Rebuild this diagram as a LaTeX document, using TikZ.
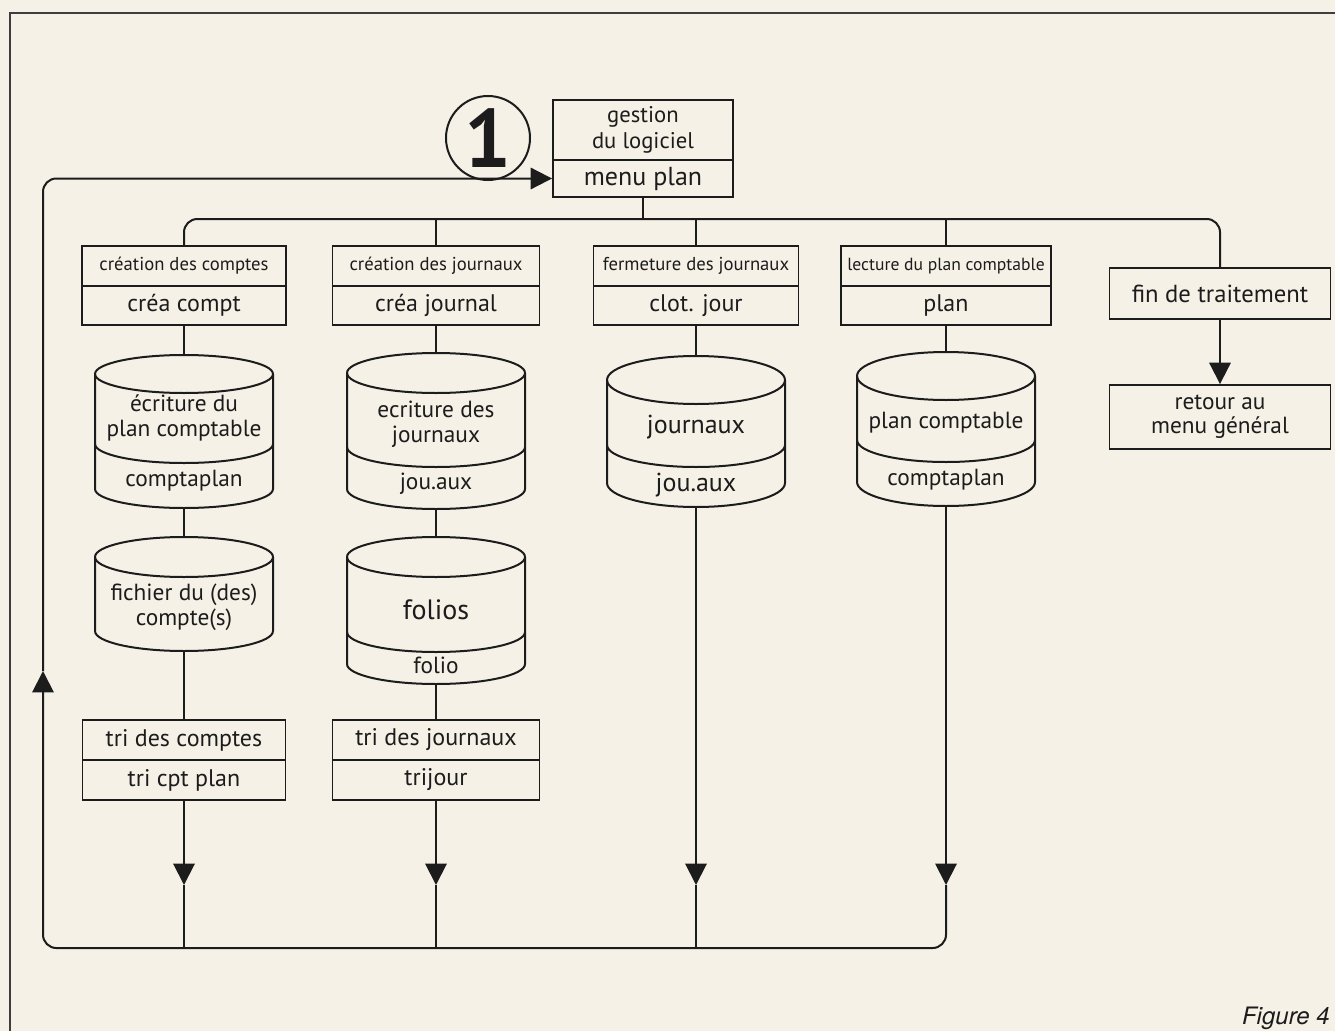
\documentclass[tikz,border=0pt]{standalone}
\usepackage{fontspec}
\setmainfont{PT Sans}
\newfontfamily\heros{TeX Gyre Heros}
\usetikzlibrary{arrows.meta}
\definecolor{paper}{RGB}{245,241,230}
\definecolor{ink}{RGB}{28,28,28}
\newcommand\drum[5]{%
  \draw[ln] (#2,#3) ellipse[x radius=89,y radius=#5];
  \draw[ln] (#2-89,#3) -- (#2-89,#4) arc[start angle=180,end angle=0,x radius=89,y radius=#5] -- (#2+89,#3);
  \coordinate (#1t) at (#2,#3-#5);
  \coordinate (#1b) at (#2,#4+#5);
}
\newcommand\drumdiv[3]{%
  \draw[ln] (#1-89,#2) arc[start angle=180,end angle=0,x radius=89,y radius=#3];
}
\begin{document}
\begin{tikzpicture}[x=0.75pt,y=-0.75pt,
  ln/.style={draw=ink,line width=1.5pt,line join=round},
  bx/.style={draw=ink,line width=1.4pt,inner sep=0pt,align=center,text=ink,font=\fontsize{18}{20}\selectfont},
  hd/.style={bx,font=\fontsize{14}{16}\selectfont},
  wh/.style 2 args={minimum width=#1*0.75pt,minimum height=#2*0.75pt},
  txt/.style={align=center,inner sep=0pt,text=ink,font=\fontsize{17.5}{19}\selectfont},
  tip/.style={-{Triangle[length=16pt,width=16pt]}}]
\fill[paper] (0,0) rectangle (1335,1031);
\useasboundingbox (0,0) rectangle (1335,1031);
\draw[draw=ink!85,line width=1.2pt] (1335,13) -- (10,13) -- (10,1031);

% number circle
\node[draw=ink,line width=1.5pt,circle,minimum size=84*0.75pt,inner sep=0pt,text=ink,
  font=\fontsize{62}{62}\selectfont\bfseries] (num) at (488,138) {1};

% top box
\node[bx,wh={180}{60},font=\fontsize{17}{19}\selectfont] (g1) at (643,130) {gestion\\du logiciel};
\node[bx,wh={180}{37},font=\fontsize{19.5}{21}\selectfont] (g2) at (643,178.5) {menu plan};

% column headers
\node[hd,wh={204}{40}] (c1a) at (184,266) {création des comptes};
\node[bx,wh={204}{39}] (c1b) at (184,305.5) {créa compt};
\node[hd,wh={207}{40}] (c2a) at (436,266) {création des journaux};
\node[bx,wh={207}{39}] (c2b) at (436,305.5) {créa journal};
\node[hd,wh={205}{40}] (c3a) at (696,266) {fermeture des journaux};
\node[bx,wh={205}{39}] (c3b) at (696,305.5) {clot. jour};
\node[hd,wh={210}{40},font=\fontsize{13.2}{15}\selectfont] (c4a) at (946,266) {lecture du plan comptable};
\node[bx,wh={210}{39}] (c4b) at (946,305.5) {plan};
\node[bx,wh={221}{51},font=\fontsize{18.5}{20}\selectfont] (fin) at (1220,293.5) {fin de traitement};
\node[bx,wh={221}{64},font=\fontsize{17.5}{18}\selectfont] (ret) at (1220,417) {retour au\\menu général};

% cylinders
\drum{A1}{184}{374}{489}{19}
\drumdiv{184}{444}{19}
\node[txt] (A1u) at (184,418) {écriture du\\plan comptable};
\node[txt] (A1l) at (184,481) {comptaplan};

\drum{A2}{184}{557}{631}{20}
\node[txt] (A2u) at (184,607) {fichier du (des)\\compte(s)};

\drum{B1}{436}{373}{489}{20}
\drumdiv{436}{447}{20}
\node[txt] (B1u) at (436,424) {ecriture des\\journaux};
\node[txt] (B1l) at (436,484) {jou.aux};

\drum{B2}{436}{557}{664}{20}
\drumdiv{436}{632}{20}
\node[txt,font=\fontsize{21}{23}\selectfont] (B2u) at (436,610) {folios};
\node[txt] (B2l) at (436,665) {folio};

\drum{C}{696}{380}{483}{24}
\drumdiv{696}{445}{22}
\node[txt,font=\fontsize{19.5}{21}\selectfont] (Cu) at (696,427) {journaux};
\node[txt,font=\fontsize{19.5}{21}\selectfont] (Cl) at (696,485) {jou.aux};

\drum{D}{946}{376}{482}{24}
\drumdiv{946}{440}{22}
\node[txt] (Du) at (946,423) {plan comptable};
\node[txt] (Dl) at (946,480) {comptaplan};

% sort boxes
\node[bx,wh={203}{40}] (t1a) at (184,740) {tri des comptes};
\node[bx,wh={203}{40}] (t1b) at (184,780) {tri cpt plan};
\node[bx,wh={207}{40}] (t2a) at (436,740) {tri des journaux};
\node[bx,wh={207}{40}] (t2b) at (436,780) {trijour};

% figure caption
\node[anchor=base east,inner sep=0pt,text=ink,font=\heros\itshape\fontsize{18}{20}\selectfont] (cap) at (1330,1024) {Figure 4};

% coordinates
\coordinate (dR) at (1220,219);
\coordinate (bL) at (43,948);
\coordinate (uL) at (43,671);
\coordinate (a1) at (184,885);
\coordinate (a2) at (436,885);
\coordinate (a3) at (696,885);
\coordinate (a4) at (946,885);

% distribution
\draw[ln] (g2.south) -- (g2.south |- dR);
\draw[ln,rounded corners=10pt] (c1a.north) |- (dR) -- (fin.north);
\draw[ln] (c2a.north) -- (c2a.north |- dR);
\draw[ln] (c3a.north) -- (c3a.north |- dR);
\draw[ln] (c4a.north) -- (c4a.north |- dR);
\draw[ln,tip] (fin.south) -- (ret.north);

% column 1
\draw[ln] (c1b.south) -- (A1t);
\draw[ln] (A1b) -- (A2t);
\draw[ln] (A2b) -- (t1a.north);
\draw[ln,tip] (t1b.south) -- (a1);
\draw[ln] (a1) -- (a1 |- bL);
% column 2
\draw[ln] (c2b.south) -- (B1t);
\draw[ln] (B1b) -- (B2t);
\draw[ln] (B2b) -- (t2a.north);
\draw[ln,tip] (t2b.south) -- (a2);
\draw[ln] (a2) -- (a2 |- bL);
% column 3
\draw[ln] (c3b.south) -- (Ct);
\draw[ln,tip] (Cb) -- (a3);
\draw[ln] (a3) -- (a3 |- bL);
% column 4 and return loop
\draw[ln] (c4b.south) -- (Dt);
\draw[ln,tip] (Db) -- (a4);
\draw[ln,tip,rounded corners=10pt] (a4) |- (bL) -- (uL);
\draw[ln,tip,rounded corners=10pt] (uL) |- (g2.west);
\end{tikzpicture}
\end{document}
